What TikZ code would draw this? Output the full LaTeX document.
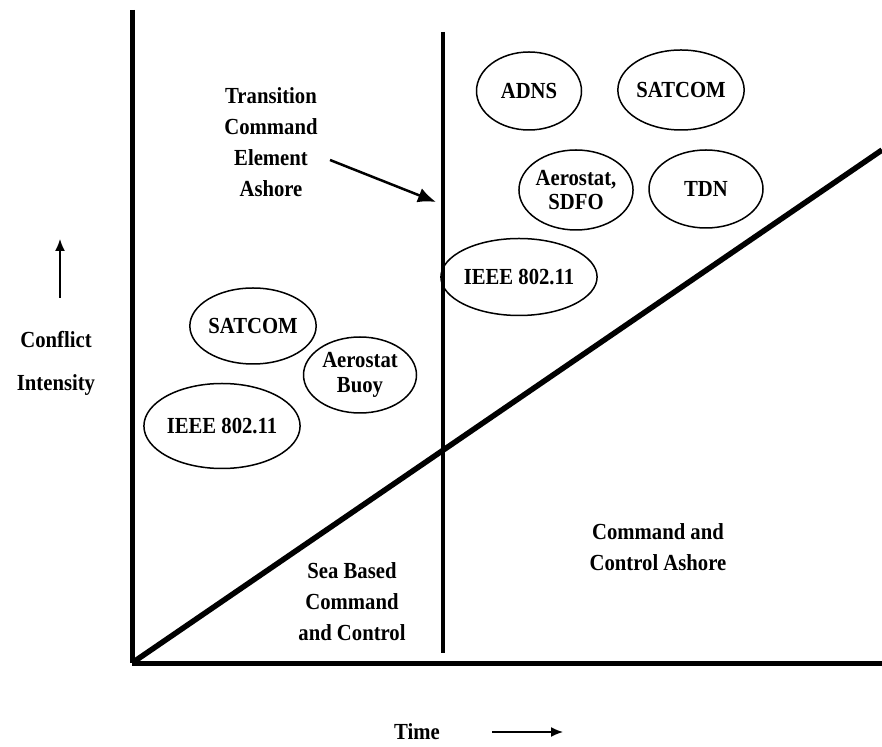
\documentclass[tikz,border=0pt]{standalone}
\usepackage{fontspec}
\setmainfont{Liberation Serif}[FakeStretch=0.9]
\usetikzlibrary{shapes,arrows.meta}
\pgfdeclarelayer{edgelayer}
\pgfdeclarelayer{nodelayer}
\pgfsetlayers{edgelayer,nodelayer,main}
\tikzset{font=\fontsize{23}{31}\selectfont\bfseries}
\tikzstyle{none}=[inner sep=0pt]
\tikzstyle{label}=[inner sep=0pt,align=center]
\tikzstyle{oval}=[ellipse,draw,line width=1.5pt,inner sep=0pt,minimum width=110pt,minimum height=78pt]
\tikzstyle{axis}=[line width=5pt]
\tikzstyle{pointer}=[-{Latex[length=18pt,width=15pt]}]

\begin{document}
\begin{tikzpicture}[x=10pt,y=10pt]
	\useasboundingbox (-13.2, -8.3) rectangle (75, 66.3);
	\begin{pgfonlayer}{nodelayer}
		\node [style=none] (0) at (0, 0) {};
		\node [style=none] (1) at (0, 65.3) {};
		\node [style=none] (2) at (75, 0) {};
		\node [style=none] (3) at (31.1, 63.1) {};
		\node [style=none] (4) at (31.1, 1) {};
		\node [style=none] (5) at (75, 51.3) {};
		\node [style=label] (6) at (13.9, 52.1) {Transition\\Command\\Element\\Ashore};
		\node [style=none] (7) at (19.8, 50.3) {};
		\node [style=none] (8) at (30.4, 46.1) {};
		\node [style=oval, minimum width=105pt] (9) at (39.7, 57.2) {ADNS};
		\node [style=oval, minimum width=112pt, minimum height=80pt] (10) at (54.9, 57.3) {SATCOM};
		\node [style=oval, minimum width=114pt, minimum height=80pt, align=center] (11) at (44.4, 47.3) {Aerostat,\\[-7pt]SDFO};
		\node [style=oval, minimum width=114pt] (12) at (57.4, 47.4) {TDN};
		\node [style=oval, minimum width=125pt, minimum height=77pt] (13) at (38.7, 38.6) {IEEE 802.11};
		\node [style=oval, minimum width=105pt, minimum height=76pt] (14) at (12.1, 33.7) {SATCOM};
		\node [style=oval, minimum width=113pt, minimum height=76pt, align=center] (15) at (22.8, 28.8) {Aerostat\\[-6pt]Buoy};
		\node [style=oval, minimum width=116pt, minimum height=85pt] (16) at (9, 23.7) {IEEE 802.11};
		\node [style=label] (17) at (-7.6, 32.3) {Conflict};
		\node [style=label] (18) at (-7.6, 27.8) {Intensity};
		\node [style=none] (19) at (-7.2, 36.5) {};
		\node [style=none] (20) at (-7.2, 42.4) {};
		\node [style=label] (21) at (22, 6.1) {Sea Based\\Command\\and Control};
		\node [style=label] (22) at (52.6, 11.6) {Command and\\Control Ashore};
		\node [style=none] (23) at (28.5, -6.9) {Time};
		\node [style=none] (24) at (36, -6.9) {};
		\node [style=none] (25) at (43.1, -6.9) {};
	\end{pgfonlayer}
	\begin{pgfonlayer}{edgelayer}
		\draw [style=axis] (1.center) to (0.center);
		\draw [style=axis] (0.center) to (2.center);
		\draw [line width=4pt] (3.center) to (4.center);
		\draw [line width=5.5pt] (0.center) to (5.center);
		\draw [style=pointer, line width=2.5pt] (7.center) to (8.center);
		\draw [line width=1.5pt, -{Latex[length=12pt,width=10pt]}] (19.center) to (20.center);
		\draw [line width=1.5pt, -{Latex[length=12pt,width=10pt]}] (24.center) to (25.center);
	\end{pgfonlayer}
\end{tikzpicture}
\end{document}
